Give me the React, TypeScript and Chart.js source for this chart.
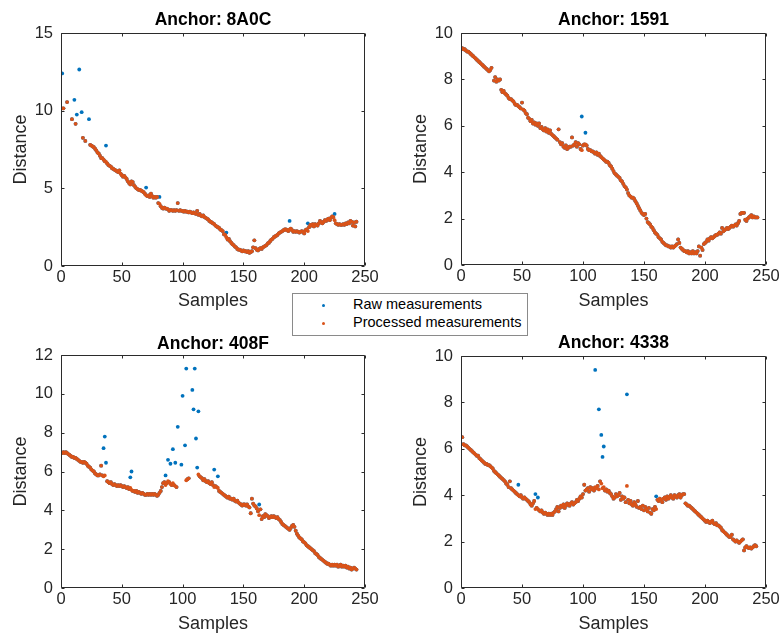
import React, { useEffect, useRef } from 'react';
import { Chart, registerables } from 'chart.js';

Chart.register(...registerables);

type Series = (number | null)[];

// ---------- data (sample index = position + 1) ----------
const xTicks = [0, 50, 100, 150, 200, 250];

const anchorNames = ['8A0C', '1591', '408F', '4338'];

const processed8A0C: Series = [
  10.15, 10.15, null, null, 10.55, null, null, null, 9.45, null,
  null, 9.15, null, null, null, null, null, 8.25, null, 8.05,
  null, null, null, 7.8, 7.75, 7.7, 7.65, 7.55, 7.45, 7.3,
  7.25, 7.1, 6.95, 6.95, 6.85, 6.75, 6.7, 6.6, 6.5, 6.45,
  6.4, 6.3, 6.25, 6.2, 6.15, 6.1, 6.05, 6.15, 5.95, 5.85,
  5.75, 5.8, 5.7, 5.6, 5.45, 5.35, 5.25, 5.45, 5.4, 5.2,
  5.1, 5.0, 4.95, 4.9, 4.9, 4.85, 4.8, 4.75, 4.65, 4.55,
  4.5, 4.55, 4.45, 4.65, 4.5, 4.4, 4.45, 4.4, 4.45, 4.05,
  4.0, 3.85, 3.75, 3.7, 3.75, 3.7, 3.7, 3.65, 3.55, 3.6,
  3.6, 3.55, 3.6, 3.55, 3.6, 4.05, 3.55, 3.6, 3.55, 3.55,
  3.5, 3.55, 3.5, 3.5, 3.45, 3.5, 3.45, 3.4, 3.45, 3.4,
  3.35, 3.55, 3.3, 3.35, 3.25, 3.2, 3.25, 3.15, 3.1, 3.05,
  3.0, 2.9, 2.85, 2.8, 2.75, 2.7, 2.6, 2.55, 2.5, 2.45,
  2.35, 2.3, 2.25, 2.05, 2.0, 1.85, 1.7, 1.75, 1.6, 1.5,
  1.4, 1.35, 1.25, 1.2, 1.1, 1.05, 1.05, 1.0, 0.95, 1.0,
  0.95, 0.95, 0.9, 0.95, 0.85, 0.9, 0.95, 1.2, 1.65, 1.15,
  1.05, 1.0, 1.1, 1.15, 1.1, 1.2, 1.25, 1.3, 1.35, 1.45,
  1.5, 1.6, 1.7, 1.75, 1.85, 1.9, 1.95, 2.0, 2.1, 2.15,
  2.2, 2.25, 2.3, 2.35, 2.35, 2.3, 2.25, 2.35, 2.4, 2.3,
  2.2, 2.25, 2.2, 2.25, 2.2, 2.15, 2.2, 2.25, 2.2, 2.1,
  2.3, 2.35, 2.25, 2.5, 2.65, 2.6, 2.7, 2.55, 2.7, 2.65,
  2.6, 2.75, 2.9, 2.8, 2.75, 2.85, 2.95, 2.9, 3.0, 3.05,
  2.95, 3.1, 3.2, 3.15, 2.95, 2.75, 2.7, 2.65, 2.7, 2.65,
  2.65, 2.7, 2.65, 2.75, 2.7, 2.8, 2.75, 2.9, 2.85, 2.6,
  2.8, 2.55, 2.85,
];
const rawOverrides8A0C: [number, number][] = [
  [1, 12.4], [11, 10.7], [13, 9.75], [15, 12.65], [17, 9.9], [23, 9.45], [37, 7.75],
  [70, 5.05], [81, 4.45], [136, 2.15], [188, 2.9], [203, 2.75], [225, 3.35],
];

const processed1591: Series = [
  9.35, 9.3, 9.3, 9.25, 9.2, 9.2, 9.15, 9.1, 9.05, 9.0,
  8.95, 8.9, 8.85, 8.8, 8.75, 8.7, 8.65, 8.6, 8.55, 8.5,
  8.45, 8.4, 8.35, 8.4, 8.5, null, 7.95, 8.1, 7.9, 8.0,
  7.95, 8.0, 7.55, 7.45, 7.5, 7.4, 7.35, 7.3, 7.2, 7.15,
  7.15, 7.1, 7.05, 6.95, 6.9, 6.9, 6.85, 6.8, 6.75, 7.0,
  6.7, 6.65, 6.55, 6.5, 6.35, 6.3, 6.2, 6.25, 6.1, 6.15,
  6.05, 6.1, 6.0, 6.1, 5.9, 5.95, 5.85, 5.8, 5.9, 5.75,
  5.85, 5.7, 5.8, 5.65, 5.6, 5.55, 5.5, 5.45, 5.4, 5.85,
  5.3, 5.2, 5.25, 5.1, 5.05, 5.15, 5.0, 5.05, 5.1, 5.1,
  5.5, 5.15, 5.2, 5.3, 5.1, 5.25, 5.2, 5.0, 4.95, 5.15,
  5.2, 5.2, 5.15, 5.0, 4.95, 4.95, 4.9, 4.9, 4.85, 4.8,
  4.85, 4.75, 4.8, 4.7, 4.65, 4.6, 4.55, 4.5, 4.45, 4.45,
  4.4, 4.3, 4.25, 4.15, 4.05, 3.95, 3.9, 3.85, 3.8, 3.75,
  3.65, 3.6, 3.5, 3.4, 3.35, 3.25, 3.1, 3.0, 2.95, 2.9,
  2.9, 2.85, 2.75, 2.65, 2.55, 2.45, 2.35, 2.25, 2.2, 2.15,
  2.2, 2.0, 1.85, 1.8, 1.75, 1.65, 1.6, 1.5, 1.4, 1.35,
  1.3, 1.2, 1.15, 1.1, 1.0, 0.95, 0.9, 0.85, 0.85, 0.8,
  0.8, 0.75, 0.8, 0.75, 0.8, 0.85, 0.9, 1.1, 0.95, 0.75,
  0.7, 0.65, 0.6, 0.6, 0.55, 0.6, 0.5, 0.55, 0.5, 0.6,
  0.5, 0.55, 0.5, 0.6, 0.8, 0.4, 0.75, 0.65, 0.9, 0.95,
  1.0, 1.1, 1.05, 1.15, 1.2, 1.15, 1.2, 1.25, 1.3, 1.3,
  1.35, 1.4, 1.35, 1.6, 1.45, 1.5, 1.55, 1.6, 1.55, 1.6,
  1.65, 1.7, 1.65, 1.7, 1.75, 1.7, 1.8, 1.9, 2.2, 2.25,
  2.25, 2.25, 1.95, 1.9, 2.0, 2.05, 2.1, 2.15, 2.05, 2.1,
  2.05, 2.05, 2.05,
];
const rawOverrides1591: [number, number][] = [[99, 6.4], [102, 5.7]];

const processed408F: Series = [
  6.95, 7.0, 6.95, 7.0, 6.95, 6.9, 6.85, 6.8, 6.75, 6.75,
  6.7, 6.7, 6.65, 6.6, 6.55, 6.5, 6.5, 6.45, 6.5, 6.45,
  6.4, 6.3, 6.25, 6.2, 6.1, 6.05, 6.0, 5.9, 5.85, 5.8,
  5.8, 5.85, 6.3, 5.8, 5.75, 5.8, null, 5.5, 5.45, 5.4,
  5.45, 5.35, 5.3, 5.35, 5.3, 5.25, 5.3, 5.25, 5.3, 5.25,
  5.2, 5.25, 5.2, 5.15, 5.2, 5.1, 5.15, 5.05, 5.0, 5.0,
  4.95, 5.0, 4.9, 4.95, 4.9, 4.85, 4.9, 4.85, 4.8, 4.8,
  4.85, 4.8, 4.85, 4.8, 4.85, 4.8, 4.85, 4.8, 4.75, 4.8,
  4.9, 5.0, 5.2, 5.4, 5.45, 5.3, 5.4, 5.5, 5.45, 5.35,
  5.3, 5.4, 5.3, 5.25, 5.2, null, null, null, null, null,
  null, null, 5.55, 5.6, 5.65, null, null, null, null, null,
  null, null, 5.85, 5.75, 5.7, 5.65, 5.55, 5.6, 5.5, 5.45,
  5.5, 5.4, 5.35, 5.45, 5.3, 5.2, 5.25, 5.2, 5.15, 5.0,
  4.95, 4.9, 4.85, 4.8, 4.75, 4.7, 4.65, 4.7, 4.6, 4.6,
  4.55, 4.6, 4.5, 4.45, 4.5, 4.4, 4.35, 4.3, 4.25, 4.3,
  4.3, 4.25, 4.3, 4.2, 4.15, 3.85, 4.6, 4.35, 4.25, 4.2,
  4.1, 3.95, 3.75, 4.05, 3.55, 3.7, 3.65, 3.8, 3.75, 3.7,
  3.6, 3.65, 3.7, 3.65, 3.7, 3.65, 3.6, 3.65, 3.55, 3.5,
  3.4, 3.3, 3.25, 3.2, 3.15, 3.1, 3.05, 3.0, 3.1, 3.2,
  3.25, 3.15, 2.95, 2.8, 2.7, 2.6, 2.55, 2.5, 2.4, 2.35,
  2.3, 2.2, 2.15, 2.1, 2.05, 2.0, 1.95, 1.9, 1.8, 1.75,
  1.7, 1.6, 1.55, 1.5, 1.45, 1.4, 1.35, 1.3, 1.25, 1.25,
  1.2, 1.15, 1.2, 1.15, 1.2, 1.15, 1.2, 1.1, 1.15, 1.2,
  1.1, 1.15, 1.1, 1.15, 1.05, 1.1, 1.0, 1.05, 0.95, 1.0,
  1.05, 1.0, 0.95,
];
const rawOverrides408F: [number, number][] = [
  [35, 7.2], [36, 7.8], [37, 6.45], [57, 5.7], [58, 6.0], [86, 5.8], [88, 6.6],
  [90, 6.4], [92, 7.15], [94, 6.45], [96, 8.3], [99, 6.35], [100, 9.9], [102, 7.35],
  [103, 11.3], [108, 10.2], [109, 9.2], [110, 11.3], [111, 7.7], [112, 6.2],
  [113, 9.1], [126, 6.1], [129, 5.75], [163, 4.3],
];

const processed4338: Series = [
  6.5, 6.2, 6.15, 6.15, 6.1, 6.05, 6.0, 5.95, 5.9, 5.85,
  5.8, 5.75, 5.7, 5.7, 5.6, 5.55, 5.5, 5.45, 5.4, 5.35,
  5.35, 5.3, 5.3, 5.25, 5.2, 5.15, 5.05, 5.0, 4.95, 4.9,
  4.85, 4.8, 4.75, 4.7, 4.65, 4.6, 4.5, 4.45, 4.35, 4.6,
  4.3, 4.25, 4.2, 4.15, 4.1, 4.05, 4.0, 3.95, 4.0, 3.9,
  3.85, 3.9, 3.85, 3.8, 3.75, 3.7, 3.6, 3.55, 3.65, 3.75,
  3.4, 3.45, 3.4, 3.35, 3.3, 3.35, 3.25, 3.2, 3.25, 3.2,
  3.15, 3.2, 3.15, 3.2, 3.15, 3.25, 3.3, 3.4, 3.5, 3.3,
  3.45, 3.55, 3.5, 3.6, 3.45, 3.55, 3.65, 3.6, 3.55, 3.65,
  3.7, 3.6, 3.65, 3.7, 3.8, 3.75, 3.85, 3.95, 3.9, 4.05,
  4.45, 4.2, 4.25, 4.3, 4.15, 4.35, 4.25, 4.3, 4.2, 4.35,
  4.3, 4.4, 4.25, 4.6, 4.5, 4.3, 4.35, 4.2, 4.25, 4.15,
  4.2, 4.1, 4.05, 3.95, 3.85, 3.9, 4.05, 3.95, 4.0, 4.1,
  3.8, 3.95, 3.85, 3.9, 3.7, 4.4, 3.8, 3.65, 3.75, 3.6,
  3.55, 3.7, 3.6, 3.5, 3.75, 3.45, 3.5, 3.4, 3.55, 3.35,
  3.5, 3.4, 3.3, 3.45, 3.25, 3.2, 3.4, 3.35, 3.5, 3.4,
  3.8, 3.75, 3.85, 3.8, 3.7, 3.85, 3.9, 3.8, 3.95, 3.85,
  3.9, 4.0, 3.9, 3.85, 4.0, 3.95, 3.9, 4.0, 4.05, 3.9,
  4.0, 4.05, 4.05, 3.65, 3.6, 3.55, 3.55, 3.5, 3.45, 3.4,
  3.35, 3.3, 3.25, 3.2, 3.15, 3.1, 3.05, 3.0, 2.95, 2.9,
  2.85, 2.9, 2.85, 2.8, 2.85, 2.9, 2.8, 2.75, 2.8, 2.7,
  2.7, 2.65, 2.6, 2.5, 2.45, 2.4, 2.35, 2.3, 2.25, 2.2,
  2.2, 2.3, 2.1, 2.05, 2.0, 2.05, 2.0, 1.95, 2.0, 2.05,
  2.1, 1.62, 1.75, 1.8, 1.75, 1.72, 1.75, 1.7, 1.75, 1.8,
  1.85, 1.8,
];
const rawOverrides4338: [number, number][] = [
  [47, 4.45], [61, 4.05], [63, 3.9], [110, 9.4], [113, 7.7], [115, 6.6],
  [116, 5.65], [117, 6.1], [136, 8.35], [160, 3.95],
];

const yMaxes = [15, 10, 12, 10];
const ySteps = [5, 2, 2, 2];

// ---------- styling ----------
const BLUE = '#0072BD';
const ORANGE = '#D95319';
const AXIS = '#2b2b2b';
const TXT = '#262626';
const FONT = "'Liberation Sans', Arial, Helvetica, sans-serif";

function withOverrides(proc: Series, ov: [number, number][]): Series {
  const r = proc.slice();
  ov.forEach(([s, v]) => {
    while (r.length < s) r.push(null);
    r[s - 1] = v;
  });
  return r;
}

function toPoints(arr: Series) {
  const pts: { x: number; y: number }[] = [];
  arr.forEach((v, i) => {
    if (v !== null && v !== undefined) pts.push({ x: i + 1, y: v });
  });
  return pts;
}

type Layout = {
  left: number; top: number; w: number; h: number;
  padRight: number; yAxisW: number; yTitleTop: number;
  xAxisH: number; xTitleBottom: number; titleTop: number; titleBottom: number;
};

const layouts: Layout[] = [
  { left: 0, top: 0, w: 390, h: 320, padRight: 25, yAxisW: 61, yTitleTop: 10.7, xAxisH: 54, xTitleBottom: 7.7, titleTop: 10, titleBottom: 2 },
  { left: 390, top: 0, w: 389, h: 320, padRight: 13, yAxisW: 71, yTitleTop: 20.2, xAxisH: 55, xTitleBottom: 7.7, titleTop: 10, titleBottom: 2 },
  { left: 0, top: 320, w: 390, h: 319, padRight: 25, yAxisW: 61, yTitleTop: 10.7, xAxisH: 51, xTitleBottom: 3.7, titleTop: 13.5, titleBottom: 0.5 },
  { left: 390, top: 320, w: 389, h: 319, padRight: 13, yAxisW: 71, yTitleTop: 20.2, xAxisH: 51, xTitleBottom: 3.7, titleTop: 12.5, titleBottom: 2.5 },
];

const framePlugin = {
  id: 'matlabFrame',
  afterDraw(chart: any) {
    const { ctx, chartArea: a, scales } = chart;
    const L = Math.round(a.left) + 0.5;
    const R = Math.round(a.right) - 0.5;
    const T = Math.round(a.top) + 0.5;
    const B = Math.round(a.bottom) - 0.5;
    ctx.save();
    ctx.strokeStyle = AXIS;
    ctx.lineWidth = 1;
    ctx.beginPath();
    ctx.rect(L, T, R - L, B - T);
    const tl = 3;
    scales.x.ticks.forEach((t: any) => {
      const px = Math.round(scales.x.getPixelForValue(t.value)) + 0.5;
      ctx.moveTo(px, B); ctx.lineTo(px, B - tl);
      ctx.moveTo(px, T); ctx.lineTo(px, T + tl);
    });
    scales.y.ticks.forEach((t: any) => {
      const py = Math.round(scales.y.getPixelForValue(t.value)) + 0.5;
      ctx.moveTo(L, py); ctx.lineTo(L + tl, py);
      ctx.moveTo(R, py); ctx.lineTo(R - tl, py);
    });
    ctx.stroke();
    ctx.restore();
  },
};

function Panel({ idx }: { idx: number }) {
  const ref = useRef<HTMLCanvasElement | null>(null);
  useEffect(() => {
    if (!ref.current) return;
    const L = layouts[idx];
    const procs = [processed8A0C, processed1591, processed408F, processed4338];
    const ovs = [rawOverrides8A0C, rawOverrides1591, rawOverrides408F, rawOverrides4338];
    const proc = procs[idx];
    const raw = withOverrides(proc, ovs[idx]);
    const chart = new Chart(ref.current, {
      type: 'scatter',
      data: {
        datasets: [
          {
            label: 'Processed measurements',
            data: toPoints(proc),
            backgroundColor: ORANGE,
            borderColor: ORANGE,
            pointRadius: 1.9,
            pointBorderWidth: 0,
            order: 0,
          },
          {
            label: 'Raw measurements',
            data: toPoints(raw),
            backgroundColor: BLUE,
            borderColor: BLUE,
            pointRadius: 1.9,
            pointBorderWidth: 0,
            order: 1,
          },
        ],
      },
      options: {
        animation: false,
        responsive: false,
        events: [],
        layout: { padding: { left: 0, right: L.padRight, top: 0, bottom: 0 } },
        plugins: {
          legend: { display: false },
          tooltip: { enabled: false },
          title: {
            display: true,
            text: 'Anchor: ' + anchorNames[idx],
            fullSize: false,
            color: '#000',
            font: { family: FONT, size: 17.5, weight: 'bold', lineHeight: 1.2 },
            padding: { top: L.titleTop, bottom: L.titleBottom },
          },
        },
        scales: {
          x: {
            type: 'linear',
            min: xTicks[0],
            max: xTicks[xTicks.length - 1],
            afterBuildTicks: (s: any) => { s.ticks = xTicks.map((v) => ({ value: v })); },
            ticks: {
              padding: 2,
              color: TXT,
              font: { family: FONT, size: 16.5, lineHeight: 1.2 },
              maxRotation: 0,
              autoSkip: false,
            },
            grid: { display: false, drawTicks: false },
            border: { display: false },
            title: {
              display: true,
              text: 'Samples',
              color: TXT,
              font: { family: FONT, size: 18, lineHeight: 1.2 },
              padding: { top: 0, bottom: L.xTitleBottom },
            },
            afterFit: (s: any) => { s.height = L.xAxisH; s.paddingLeft = 0; s.paddingRight = 0; },
          },
          y: {
            type: 'linear',
            min: 0,
            max: yMaxes[idx],
            ticks: {
              stepSize: ySteps[idx],
              padding: 8,
              color: TXT,
              font: { family: FONT, size: 16.5, lineHeight: 1.2 },
            },
            grid: { display: false, drawTicks: false },
            border: { display: false },
            title: {
              display: true,
              text: 'Distance',
              color: TXT,
              font: { family: FONT, size: 18, lineHeight: 1.2 },
              padding: { top: L.yTitleTop, bottom: 0 },
            },
            afterFit: (s: any) => { s.width = L.yAxisW; s.paddingTop = 0; s.paddingBottom = 0; },
          },
        },
      } as any,
      plugins: [framePlugin],
    });
    return () => chart.destroy();
  }, [idx]);
  const L = layouts[idx];
  return (
    <canvas
      ref={ref}
      width={L.w}
      height={L.h}
      style={{ position: 'absolute', left: L.left, top: L.top, width: L.w, height: L.h }}
    />
  );
}

function Legend() {
  const dot = (c: string) => ({
    position: 'absolute' as const,
    left: 29,
    width: 3,
    height: 3,
    borderRadius: '50%',
    background: c,
  });
  const label = {
    position: 'absolute' as const,
    left: 60,
    whiteSpace: 'nowrap' as const,
    lineHeight: '17px',
  };
  return (
    <div
      style={{
        position: 'absolute',
        left: 292,
        top: 293,
        width: 236,
        height: 43,
        boxSizing: 'border-box',
        border: '1px solid #8a8a8a',
        background: '#fff',
        fontFamily: FONT,
        fontSize: 14.5,
        color: '#000',
      }}
    >
      <div style={{ ...dot(BLUE), top: 10 }} />
      <div style={{ ...label, top: 2 }}>Raw measurements</div>
      <div style={{ ...dot(ORANGE), top: 28 }} />
      <div style={{ ...label, top: 20 }}>Processed measurements</div>
    </div>
  );
}

export default function App() {
  return (
    <div
      style={{
        position: 'absolute',
        left: 0,
        top: 0,
        width: 779,
        height: 639,
        background: '#fff',
        overflow: 'hidden',
      }}
    >
      {[0, 1, 2, 3].map((i) => (
        <Panel key={i} idx={i} />
      ))}
      <Legend />
    </div>
  );
}
